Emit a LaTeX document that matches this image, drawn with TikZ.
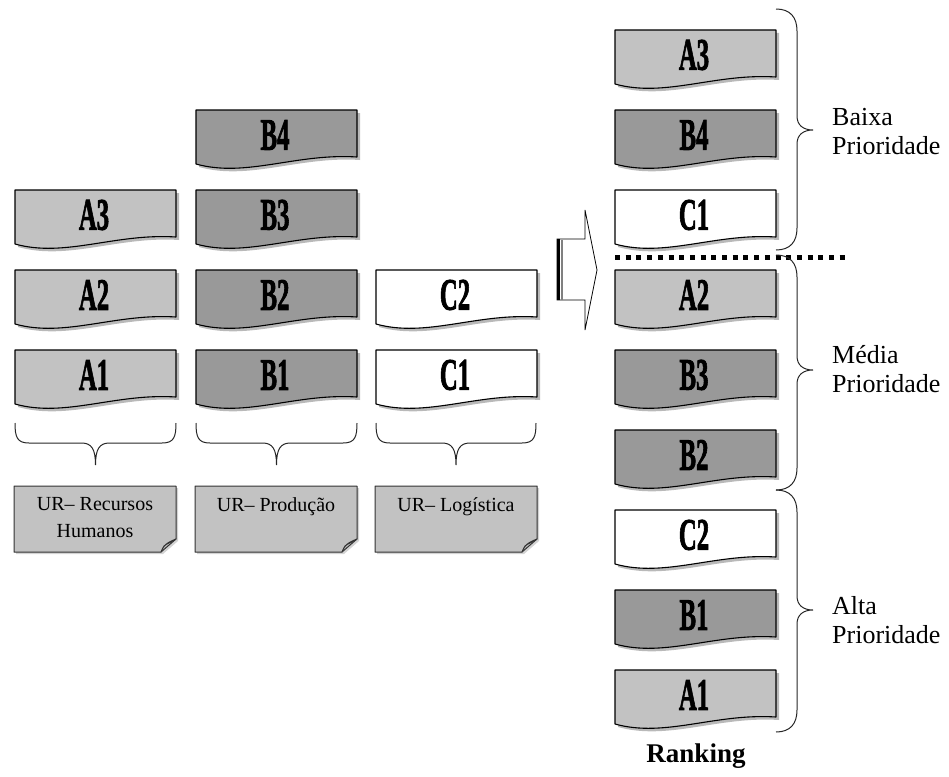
\documentclass[tikz,border=0pt]{standalone}
\usepackage{fontspec}
\setmainfont{Liberation Serif}
\newfontfamily\boxfont[FakeBold=2.2]{Liberation Serif Bold}
\usepackage{graphicx}
\usetikzlibrary{positioning}
\usetikzlibrary{shadows}

\definecolor{docA}{gray}{0.76}
\definecolor{docB}{gray}{0.60}
\definecolor{docC}{gray}{1.00}
\definecolor{noteFill}{gray}{0.76}

\tikzset{
  doc edge/.style={draw=black, line width=1.1pt, line join=round,
    drop shadow={shadow xshift=3pt, shadow yshift=-3pt, opacity=.55}},
  doc label/.style={inner sep=0pt, font=\fontsize{45}{45}\boxfont},
  note edge/.style={draw=black!80, line width=1pt, line join=round},
  note text/.style={inner sep=0pt, align=center, font=\fontsize{20}{27}\selectfont},
  brace line/.style={draw=black!85, line width=1pt},
  prio text/.style={inner sep=0pt, align=left, anchor=north west,
    font=\fontsize{26}{29}\selectfont},
}

% document box with wavy bottom: name, left, top, fill, label
\newcommand{\docnode}[5]{%
  \begin{scope}[shift={(#2,#3)}]
    \draw[doc edge, fill=#4] (0,0) -- (161,0) -- (161,47)
      .. controls (100,43) and (50,68) .. (0,54) -- cycle;
    \node[doc label] (#1) at (79,25) {\scalebox{0.55}[1]{#5}};
  \end{scope}}

% note with folded corner: name, left, top, text
\newcommand{\notenode}[4]{%
  \begin{scope}[shift={(#2,#3)}]
    \draw[note edge, fill=noteFill,
      drop shadow={shadow xshift=2pt, shadow yshift=-2pt, opacity=.35}]
      (0,0) -- (162,0) -- (162,53) -- (147,66) -- (0,66) -- cycle;
    \draw[note edge, fill=black!15] (147,66) .. controls (149,60) and (152,57) .. (162,53)
      .. controls (156,57) and (152,58) .. (150,60) -- cycle;
    \node[note text, anchor=north] (#1) at (81,11) {#4};
  \end{scope}}

% brace under a column: left, right, top
\newcommand{\colbrace}[3]{%
  \draw[brace line] (#1,#3) .. controls (#1,#3+14) and (#1+2,#3+20) .. (#1+14,#3+20)
    -- ({(#1+#2)/2-14},#3+20) .. controls ({(#1+#2)/2-4},#3+20) and ({(#1+#2)/2},#3+26) .. ({(#1+#2)/2},#3+42)
    .. controls ({(#1+#2)/2},#3+26) and ({(#1+#2)/2+4},#3+20) .. ({(#1+#2)/2+14},#3+20)
    -- (#2-14,#3+20) .. controls (#2-2,#3+20) and (#2,#3+14) .. (#2,#3);}

% brace to the right of the ranking: top, tip, bottom
\newcommand{\rankbrace}[3]{%
  \draw[brace line] (776,#1) .. controls (790,#1) and (797,#1+8) .. (797,#1+22)
    -- (797,#2-14) .. controls (797,#2-5) and (803,#2) .. (813,#2)
    .. controls (803,#2) and (797,#2+5) .. (797,#2+14)
    -- (797,#3-22) .. controls (797,#3-8) and (790,#3) .. (776,#3);}

\begin{document}
\begin{tikzpicture}[x=1pt, y=-1pt]
  \useasboundingbox (0,0) rectangle (949,776);

  % areas
  \docnode{B4}{196}{110}{docB}{B4}
  \docnode{A3}{15}{190}{docA}{A3}
  \docnode{B3}{196}{190}{docB}{B3}
  \docnode{A2}{15}{270}{docA}{A2}
  \docnode{B2}{196}{270}{docB}{B2}
  \docnode{C2}{376}{270}{docC}{C2}
  \docnode{A1}{15}{350}{docA}{A1}
  \docnode{B1}{196}{350}{docB}{B1}
  \docnode{C1}{376}{350}{docC}{C1}

  \colbrace{15}{176}{423}
  \colbrace{196}{357}{423}
  \colbrace{376}{536}{423}

  \notenode{hr}{14}{486}{UR-- Recursos\\Humanos}
  \notenode{prod}{195}{486}{UR-- Produção}
  \notenode{log}{375}{486}{UR-- Logística}

  % block arrow
  \draw[line width=0.8pt, fill=white, line join=miter]
    (557,239) -- (585,239) -- (585,210) -- (597,270) -- (585,330) -- (585,300) -- (557,300) -- cycle;
  \draw[line width=3pt] (558.5,239) -- (558.5,300);
  \draw[black!50, line width=1.5pt] (562,239.5) -- (562,299.5);

  % ranking
  \docnode{rA3}{615}{30}{docA}{A3}
  \docnode{rB4}{615}{110}{docB}{B4}
  \docnode{rC1}{615}{190}{docC}{C1}
  \docnode{rA2}{615}{270}{docA}{A2}
  \docnode{rB3}{615}{350}{docB}{B3}
  \docnode{rB2}{615}{430}{docB}{B2}
  \docnode{rC2}{615}{510}{docC}{C2}
  \docnode{rB1}{615}{590}{docB}{B1}
  \docnode{rA1}{615}{670}{docA}{A1}

  \draw[line width=5pt, dash pattern=on 5pt off 5.7pt] (615,257) -- (850,257);

  \rankbrace{9}{130}{250}
  \rankbrace{255}{370}{490}
  \rankbrace{490}{610}{732}

  \node[prio text] (baixa) at (832,108) {Baixa\\Prioridade};
  \node[prio text] (media) at (832,345) {Média\\Prioridade};
  \node[prio text] (alta) at (832,596) {Alta\\Prioridade};

  \node[font=\fontsize{27}{27}\selectfont\bfseries, anchor=base] (rank) at (696,762) {Ranking};
\end{tikzpicture}
\end{document}
